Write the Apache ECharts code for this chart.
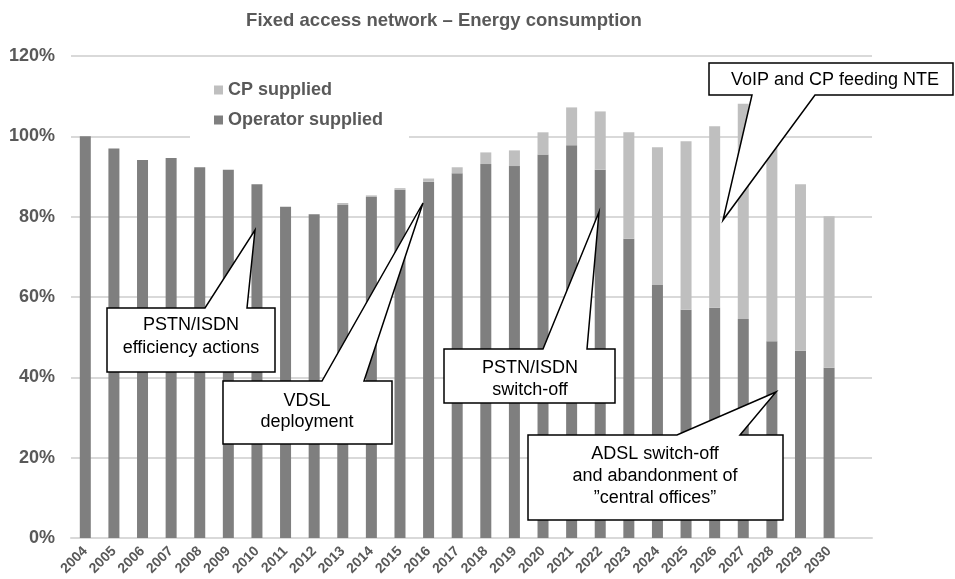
<!DOCTYPE html>
<html lang="en">
<head>
    <meta charset="UTF-8">
    <script src="https://cdn.jsdelivr.net/npm/echarts@6/dist/echarts.min.js"></script>
    <title>Fixed access network - Energy consumption</title>
    <style>
        html, body { margin: 0; padding: 0; background: #fff; }
        #main { width: 955px; height: 579px; }
    </style>
</head>
<body>
<div id="main"></div>
<script type="text/javascript">
    // values, in percent of 2004
    var years = ['2004','2005','2006','2007','2008','2009','2010','2011','2012','2013','2014','2015','2016','2017',
                 '2018','2019','2020','2021','2022','2023','2024','2025','2026','2027','2028','2029','2030'];
    var operatorSupplied = [100, 97.0, 94.1, 94.6, 92.3, 91.7, 88.1, 82.5, 80.6, 82.9, 84.9, 86.7, 88.7, 90.8,
                            93.1, 92.6, 95.5, 97.8, 91.7, 74.5, 63.0, 56.8, 57.3, 54.5, 49.0, 46.6, 42.4];
    var cpSupplied = [0, 0, 0, 0, 0, 0, 0, 0, 0, 0.5, 0.4, 0.4, 0.8, 1.5,
                      2.9, 3.9, 5.5, 9.4, 14.5, 26.5, 34.3, 42.0, 45.2, 53.6, 51.0, 41.5, 37.7];
    var yTicks = [0, 20, 40, 60, 80, 100, 120];

    var FONT = '"Liberation Sans", Arial, sans-serif';
    var grey = '#595959';

    // callout: box + pointer as one outline
    function callout(pts, lines, cx, cy, lh) {
        return [
            {type: 'polygon', z: 100, shape: {points: pts},
             style: {fill: '#fff', stroke: '#000', lineWidth: 1.5}},
            {type: 'text', z: 101, x: cx, y: cy,
             style: {text: lines.join('\n'), align: 'center', verticalAlign: 'middle',
                     fontSize: 18, fontFamily: FONT, fill: '#000', lineHeight: lh}}
        ];
    }

    var notes = [].concat(
        callout([[107,308],[205,308],[255,230],[247,308],[275,308],[275,372],[107,372]],
                ['PSTN/ISDN', 'efficiency actions'], 191, 337, 23),
        callout([[223,381],[322,381],[423,203],[364,381],[392,381],[392,444],[223,444]],
                ['VDSL', 'deployment'], 307, 412, 21),
        callout([[444,349],[543,349],[599,212],[587,349],[615,349],[615,403],[444,403]],
                ['PSTN/ISDN', 'switch-off'], 530, 379, 22),
        callout([[528,435],[677,435],[776,392],[740,435],[783,435],[783,520],[528,520]],
                ['ADSL switch-off', 'and abandonment of', '\u201dcentral offices\u201d'], 655, 476, 22),
        callout([[709,63],[953,63],[953,95],[815,95],[723,220],[752,95],[709,95]],
                ['VoIP and CP feeding NTE'], 835, 80, 22)
    );

    var chart = echarts.init(document.getElementById('main'));
    chart.setOption({
        animation: false,
        textStyle: {fontFamily: FONT},
        title: {
            text: 'Fixed access network \u2013 Energy consumption',
            left: 444, top: 11, padding: 0, textAlign: 'center',
            textStyle: {fontSize: 18.5, fontWeight: 'bold', color: grey, fontFamily: FONT}
        },
        legend: {
            data: ['CP supplied', 'Operator supplied'],
            orient: 'vertical',
            left: 190, top: 71,
            padding: [10, 26, 10, 24],
            itemGap: 12,
            itemWidth: 9, itemHeight: 9,
            backgroundColor: '#fff',
            icon: 'rect',
            textStyle: {fontSize: 18, fontWeight: 'bold', color: grey, fontFamily: FONT}
        },
        grid: {left: 71, right: 83, top: 56, bottom: 41, containLabel: false},
        xAxis: {
            type: 'category',
            // the plot area keeps one empty slot after 2030
            data: years.concat(['']),
            axisLine: {lineStyle: {color: '#d9d9d9', width: 2}},
            axisTick: {show: false},
            axisLabel: {rotate: 45, margin: 11, interval: 0, fontSize: 14, fontWeight: 'bold',
                        color: grey, fontFamily: FONT}
        },
        yAxis: {
            type: 'value',
            min: yTicks[0], max: yTicks[yTicks.length - 1], interval: 20,
            axisLine: {show: false},
            axisTick: {show: false},
            splitLine: {lineStyle: {color: '#d9d9d9', width: 2}},
            axisLabel: {formatter: '{value}%', margin: 16, fontSize: 18, fontWeight: 'bold',
                        color: grey, fontFamily: FONT}
        },
        series: [
            {name: 'Operator supplied', type: 'bar', stack: 'e', barWidth: 11,
             itemStyle: {color: '#7f7f7f'}, data: operatorSupplied},
            {name: 'CP supplied', type: 'bar', stack: 'e', barWidth: 11,
             itemStyle: {color: '#bfbfbf'}, data: cpSupplied}
        ],
        graphic: notes
    });
</script>
</body>
</html>
